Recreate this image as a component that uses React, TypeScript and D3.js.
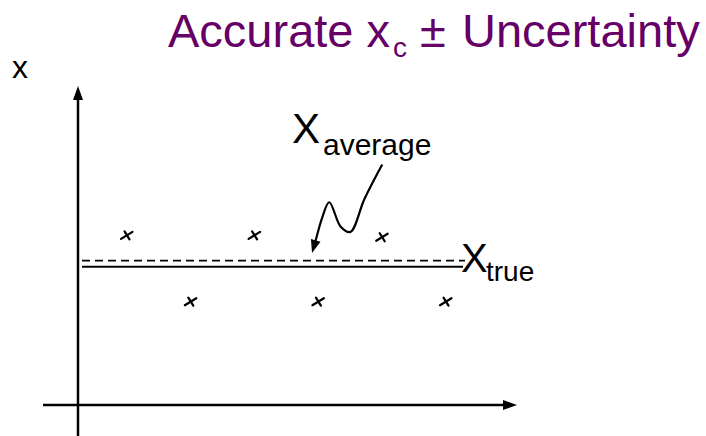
import React from "react";
import * as d3 from "d3";

// Trials (measurement index) and measured values relative to x_true
const trials = [1, 2, 3, 4, 5, 6];
const measured = [1.02, -1.14, 1.02, -1.14, 0.96, -1.14];
const xTrue = 0;
const xAverage = 0.2;
// Arrow path for the "X_average" annotation, in data units (trial, value)
const callout: [number, number][] = [
  [5.0, 3.33],
  [4.72, 2.2],
  [4.5, 1.13],
  [4.35, 1.3],
  [4.17, 2.1],
  [4.06, 1.6],
  [3.95, 0.8],
  [3.9, 0.45],
];

const W = 706;
const H = 436;
const FONT = "'Liberation Sans', Arial, Helvetica, sans-serif";

export default function App() {
  const x = d3.scaleLinear().domain([1, 6]).range([127, 446]);
  const y = d3.scaleLinear().domain([0, 1]).range([266.7, 236]);

  const x0 = 78; // vertical axis position
  const yAxis0 = 405; // horizontal axis position
  const lineStart = x.invert(82);
  const lineEnd = x.invert(465);

  const curve = d3
    .line<[number, number]>()
    .x((d) => x(d[0]))
    .y((d) => y(d[1]))
    .curve(d3.curveCatmullRom.alpha(0.5));

  const tipPt = callout[callout.length - 1];
  const prevPt = callout[callout.length - 2];
  const tx = x(tipPt[0]);
  const ty = y(tipPt[1]);
  const ang = Math.atan2(ty - y(prevPt[1]), tx - x(prevPt[0]));
  const headLen = 13;
  const headW = 5;
  const bx = tx - headLen * Math.cos(ang);
  const by = ty - headLen * Math.sin(ang);
  const px = -Math.sin(ang) * headW;
  const py = Math.cos(ang) * headW;
  const head = `M${tx},${ty}L${bx + px},${by + py}L${bx - px},${by - py}Z`;
  const callPts = callout.slice(0, -1).map((d) => d);
  const stopX = x.invert(tx - (headLen - 3) * Math.cos(ang));
  const stopY = y.invert(ty - (headLen - 3) * Math.sin(ang));
  callPts.push([stopX, stopY]);

  return (
    <svg
      width={W}
      height={H}
      style={{ position: "absolute", left: 0, top: 0, background: "#fff" }}
    >
      {/* Title */}
      <text fontFamily={FONT} fill="#660066">
        <tspan x={168} y={47} fontSize={47}>Accurate x</tspan>
        <tspan x={393} y={57} fontSize={28}>c</tspan>
        <tspan x={420} y={47} fontSize={47}>±</tspan>
        <tspan x={462} y={47} fontSize={47}>Uncertainty</tspan>
      </text>

      {/* axis label */}
      <text x={12} y={78} fontFamily={FONT} fontSize={32} fill="#000">
        x
      </text>

      {/* axes */}
      <line x1={x0} y1={436} x2={x0} y2={98} stroke="#000" strokeWidth={2.5} />
      <path d={`M${x0},86L${x0 - 5},100L${x0 + 5},100Z`} fill="#000" />
      <line x1={43} y1={yAxis0} x2={505} y2={yAxis0} stroke="#000" strokeWidth={2.5} />
      <path d={`M517,${yAxis0}L503,${yAxis0 - 5}L503,${yAxis0 + 5}Z`} fill="#000" />

      {/* true value line */}
      <line
        x1={x(lineStart)}
        x2={x(lineEnd) - 2}
        y1={y(xTrue)}
        y2={y(xTrue)}
        stroke="#000"
        strokeWidth={2}
      />
      {/* average line */}
      <line
        x1={x(lineStart)}
        x2={x(lineEnd)}
        y1={y(xAverage)}
        y2={y(xAverage)}
        stroke="#000"
        strokeWidth={1.8}
        strokeDasharray="8,5"
      />

      {/* measurements */}
      {trials.map((t, i) => {
        const cx = x(t);
        const cy = y(measured[i]);
        return (
          <g key={t} stroke="#000" strokeWidth={2.2} strokeLinecap="round">
            <line x1={cx - 6} y1={cy + 3.5} x2={cx + 5.5} y2={cy - 3.5} />
            <line x1={cx - 2.5} y1={cy - 4} x2={cx + 2.5} y2={cy + 4} />
          </g>
        );
      })}

      {/* callout arrow */}
      <path d={curve(callPts) || ""} fill="none" stroke="#000" strokeWidth={2.2} />
      <path d={head} fill="#000" />

      {/* labels */}
      <text fontFamily={FONT} fill="#000">
        <tspan x={292} y={143} fontSize={42}>X</tspan>
        <tspan x={323} y={155} fontSize={30}>average</tspan>
      </text>
      <text fontFamily={FONT} fill="#000">
        <tspan x={461} y={272} fontSize={40}>X</tspan>
        <tspan x={486} y={281} fontSize={28}>true</tspan>
      </text>
    </svg>
  );
}
